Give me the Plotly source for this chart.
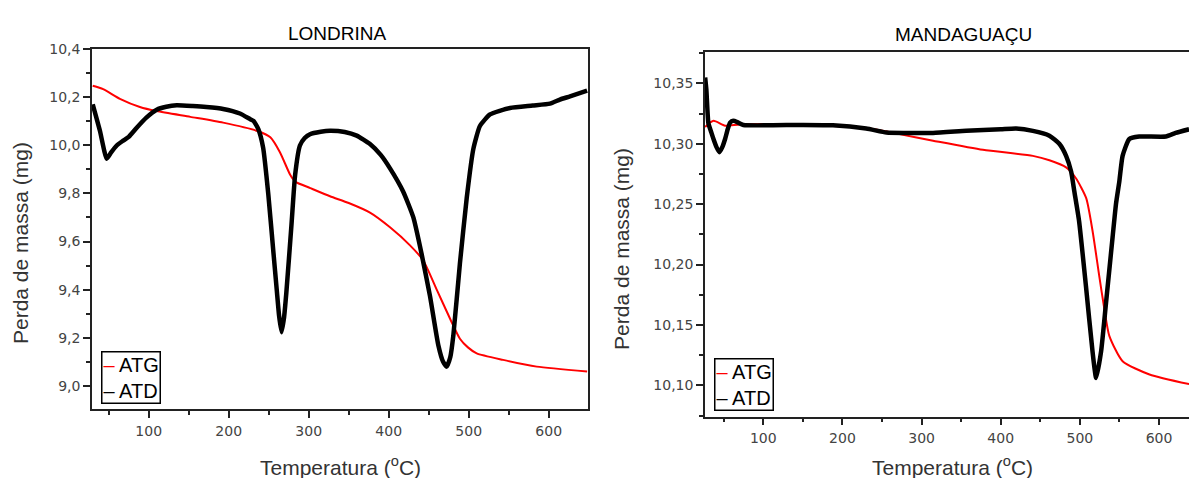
import plotly.graph_objects as go

# ---------------- data ----------------
# LONDRINA
lon_atg_t = [30, 43, 64, 89, 110, 152, 193, 235, 252, 264, 277, 283, 302, 326.6, 350, 376.6,
             401.6, 426.6, 443, 460, 477, 489, 499, 510, 543, 585, 648]
lon_atg_m = [10.247, 10.233, 10.193, 10.159, 10.142, 10.118, 10.094, 10.060, 10.033, 9.971, 9.876,
             9.849, 9.822, 9.788, 9.760, 9.720, 9.659, 9.584, 9.522, 9.400, 9.277, 9.196, 9.160,
             9.135, 9.108, 9.080, 9.060]

lon_atd_t = [30, 39, 47.5, 53, 60, 68, 75, 85, 97, 110, 122, 135, 155, 172, 193, 214, 227, 231,
             237, 243, 249.5, 256, 260, 263, 266, 269, 272, 278.5, 283, 289, 295, 301.6, 315,
             326.6, 345, 360, 376.6, 390, 401.6, 418, 430.8, 441, 451.6, 462, 468, 472.5, 477,
             480.8, 489, 497.5, 505.8, 514, 526.6, 551.6, 580, 601.6, 614, 626.6, 648]
lon_atd_m = [10.17, 10.06, 9.944, 9.97, 9.999, 10.019, 10.035, 10.073, 10.115, 10.148, 10.160,
             10.166, 10.163, 10.159, 10.151, 10.132, 10.108, 10.101, 10.067, 9.990, 9.795, 9.55,
             9.40, 9.29, 9.223, 9.28, 9.386, 9.672, 9.876, 9.999, 10.03, 10.046, 10.056, 10.060,
             10.055, 10.040, 10.005, 9.96, 9.904, 9.808, 9.70, 9.55, 9.373, 9.169, 9.10, 9.08,
             9.12, 9.21, 9.509, 9.781, 9.985, 10.08, 10.128, 10.155, 10.165, 10.173, 10.19,
             10.203, 10.227]

# MANDAGUAÇU
man_atg_t = [26.5, 37, 51.7, 70.6, 146, 230, 272, 314.5, 377.5, 440.6, 461.5, 482.6, 495, 508,
             516, 524.6, 531, 537.2, 554, 588, 638]
man_atg_m = [10.314, 10.319, 10.315, 10.316, 10.316, 10.313, 10.308, 10.3026, 10.295, 10.290,
             10.2864, 10.2805, 10.2715, 10.255, 10.228, 10.19, 10.163, 10.141, 10.120, 10.109,
             10.101]

man_atd_t = [26.5, 28, 30.6, 34, 37, 41, 44.5, 48, 51.7, 55, 58, 62, 67, 74.8, 146, 188, 230,
             255.6, 280, 314.5, 356.5, 400, 419.5, 440.6, 461.5, 474, 482.6, 489, 493, 499,
             507.7, 516, 520.6, 526.8, 533, 541.4, 545.6, 549.9, 554, 562.5, 575, 608.6, 621, 638]
man_atd_m = [10.355, 10.345, 10.317, 10.31, 10.304, 10.297, 10.293, 10.297, 10.304, 10.312,
             10.3175, 10.319, 10.318, 10.3156, 10.3156, 10.3153, 10.3126, 10.3093, 10.309,
             10.309, 10.3107, 10.312, 10.3126, 10.3107, 10.3067, 10.300, 10.290, 10.2768,
             10.2606, 10.236, 10.182, 10.128, 10.106, 10.128, 10.168, 10.223, 10.25, 10.269,
             10.29, 10.304, 10.306, 10.306, 10.309, 10.312]

x_tick_vals = [100, 200, 300, 400, 500, 600]
x_tick_text = ["100", "200", "300", "400", "500", "600"]
lon_y_vals = [9.0, 9.2, 9.4, 9.6, 9.8, 10.0, 10.2, 10.4]
lon_y_text = ["9,0", "9,2", "9,4", "9,6", "9,8", "10,0", "10,2", "10,4"]
man_y_vals = [10.10, 10.15, 10.20, 10.25, 10.30, 10.35]
man_y_text = ["10,10", "10,15", "10,20", "10,25", "10,30", "10,35"]

W, H = 1189, 478
RED = "#ff0000"
AXC = "#222222"
TICKFONT = dict(family="DejaVu Sans", size=14, color="#444444")

fig = go.Figure()
fig.add_trace(go.Scatter(x=lon_atg_t, y=lon_atg_m, mode="lines",
                         line=dict(color=RED, width=2, shape="spline", smoothing=0.6),
                         xaxis="x", yaxis="y", showlegend=False))
fig.add_trace(go.Scatter(x=lon_atd_t, y=lon_atd_m, mode="lines",
                         line=dict(color="black", width=4.5, shape="spline", smoothing=0.5),
                         xaxis="x", yaxis="y", showlegend=False))
fig.add_trace(go.Scatter(x=man_atg_t, y=man_atg_m, mode="lines",
                         line=dict(color=RED, width=2, shape="spline", smoothing=0.6),
                         xaxis="x2", yaxis="y2", showlegend=False))
fig.add_trace(go.Scatter(x=man_atd_t, y=man_atd_m, mode="lines",
                         line=dict(color="black", width=4.5, shape="spline", smoothing=0.5),
                         xaxis="x2", yaxis="y2", showlegend=False))


def xa(domain, rng, mirror):
    return dict(domain=domain, range=rng, tickmode="array", tickvals=x_tick_vals, ticktext=x_tick_text,
                ticks="outside", ticklen=7, tickwidth=1.5, tickcolor=AXC, showline=True, linecolor=AXC,
                linewidth=1.5, mirror=mirror, showgrid=False, zeroline=False, tickfont=TICKFONT,
                ticklabelstandoff=1,
                minor=dict(tickmode="linear", tick0=50, dtick=100, ticks="outside", ticklen=4,
                           tickwidth=1.5, tickcolor=AXC, showgrid=False))


def ya(domain, rng, vals, text, mtick0, mdtick, mirror, anchor):
    return dict(domain=domain, range=rng, tickmode="array", tickvals=vals, ticktext=text, anchor=anchor,
                ticks="outside", ticklen=7, tickwidth=1.5, tickcolor=AXC, showline=True, linecolor=AXC,
                linewidth=1.5, mirror=mirror, showgrid=False, zeroline=False, tickfont=TICKFONT,
                minor=dict(tickmode="linear", tick0=mtick0, dtick=mdtick, ticks="outside", ticklen=4,
                           tickwidth=1.5, tickcolor=AXC, showgrid=False))


lx0, lx1 = 92 / W, 588 / W
ly0, ly1 = (H - 408.3) / H, (H - 41.7) / H
rx0, rx1 = 705 / W, 1.0
ry0, ry1 = (H - 415.7) / H, (H - 45) / H

fig.update_layout(
    width=W, height=H, margin=dict(l=0, r=0, t=0, b=0),
    paper_bgcolor="white", plot_bgcolor="white", showlegend=False,
    xaxis=xa([lx0, lx1], [29.1, 649.1], True),
    yaxis=ya([ly0, ly1], [8.902, 10.4], lon_y_vals, lon_y_text, 9.1, 0.2, True, "x"),
    xaxis2=dict(xa([rx0, rx1], [26.3, 637.9], True), anchor="y2"),
    yaxis2=ya([ry0, ry1], [10.074, 10.3758], man_y_vals, man_y_text, 10.075, 0.05, False, "x2"),
)
fig.layout.xaxis.anchor = "y"

TITLE_FONT = dict(family="Liberation Sans", size=19, color="black")
AX_FONT = dict(family="Liberation Sans", size=21, color="#333333")
LEG_FONT = dict(family="Liberation Sans", size=20, color="black")


def px2x(px):
    return px / W


def px2y(py):
    return (H - py) / H


ann = []
ann.append(dict(text="LONDRINA", x=px2x(337), y=px2y(26), font=TITLE_FONT))
ann.append(dict(text="MANDAGUAÇU", x=px2x(963), y=px2y(27), font=TITLE_FONT))
ann.append(dict(text="Temperatura (<sup>o</sup>C)", x=px2x(341), y=px2y(466), font=AX_FONT))
ann.append(dict(text="Temperatura (<sup>o</sup>C)", x=px2x(952), y=px2y(466), font=AX_FONT))
ann.append(dict(text="Perda de massa (mg)", x=px2x(20), y=px2y(239), font=AX_FONT, textangle=-90))
ann.append(dict(text="Perda de massa (mg)", x=px2x(622), y=px2y(245), font=AX_FONT, textangle=-90))
leg_text = "<span style='color:#ff0000'>–</span> ATG<br>– ATD"
ann.append(dict(text=leg_text, x=px2x(101), y=px2y(349), xanchor="left", yanchor="top", align="left",
                font=LEG_FONT, bordercolor="black", borderwidth=1.5, borderpad=1, bgcolor="white"))
ann.append(dict(text=leg_text, x=px2x(714), y=px2y(356), xanchor="left", yanchor="top", align="left",
                font=LEG_FONT, bordercolor="black", borderwidth=1.5, borderpad=1, bgcolor="white"))
for a in ann:
    a.setdefault("xref", "paper")
    a.setdefault("yref", "paper")
    a.setdefault("showarrow", False)
    a.setdefault("xanchor", "center")
    a.setdefault("yanchor", "middle")
fig.update_layout(annotations=ann)

fig.write_html("out.html")
